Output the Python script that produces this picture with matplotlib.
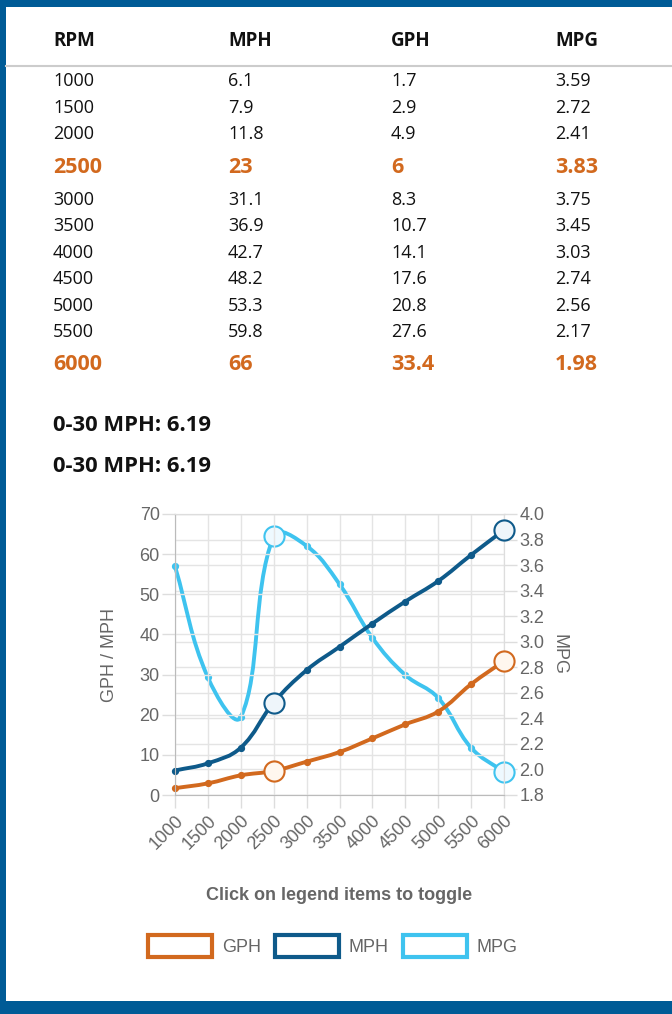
import numpy as np
import matplotlib
matplotlib.use("Agg")
from matplotlib import pyplot as plt
from matplotlib.path import Path
from matplotlib.patches import PathPatch, Rectangle

# donnees du tableau / graphe
rpm = ["1000", "1500", "2000", "2500", "3000", "3500", "4000", "4500", "5000", "5500", "6000"]
mph = [6.1, 7.9, 11.8, 23, 31.1, 36.9, 42.7, 48.2, 53.3, 59.8, 66]
gph = [1.7, 2.9, 4.9, 6, 8.3, 10.7, 14.1, 17.6, 20.8, 27.6, 33.4]
mpg = [3.59, 2.72, 2.41, 3.83, 3.75, 3.45, 3.03, 2.74, 2.56, 2.17, 1.98]
highlight = [3, 10]
mph_txt = ["6.1", "7.9", "11.8", "23", "31.1", "36.9", "42.7", "48.2", "53.3", "59.8", "66"]
gph_txt = ["1.7", "2.9", "4.9", "6", "8.3", "10.7", "14.1", "17.6", "20.8", "27.6", "33.4"]
mpg_txt = ["3.59", "2.72", "2.41", "3.83", "3.75", "3.45", "3.03", "2.74", "2.56", "2.17", "1.98"]
headers = ["RPM", "MPH", "GPH", "MPG"]
accel_txt = "0-30 MPH: 6.19"

W, H = 672, 1014
BLUE_BORDER = "#005b96"
ORANGE = "#d2691e"
C_GPH = "#d2691e"
C_MPH = "#0e5a8a"
C_MPG = "#3ec3ef"
GREY = "#666666"


def fx(x):
    return x / W


def fy(y):
    return 1 - y / H


def smooth_path(ax, xs, ys, tension=0.4):
    # courbe de bezier facon chart.js, calculee en pixels
    pts = ax.transData.transform(np.column_stack([xs, ys]))
    n = len(pts)
    cp_prev = np.zeros_like(pts)
    cp_next = np.zeros_like(pts)
    for i in range(n):
        p0 = pts[max(i - 1, 0)]
        p1 = pts[i]
        p2 = pts[min(i + 1, n - 1)]
        d01 = np.hypot(*(p1 - p0))
        d12 = np.hypot(*(p2 - p1))
        tot = d01 + d12
        fa = tension * d01 / tot if tot else 0
        fb = tension * d12 / tot if tot else 0
        cp_prev[i] = p1 - fa * (p2 - p0)
        cp_next[i] = p1 + fb * (p2 - p0)
    verts = [pts[0]]
    codes = [Path.MOVETO]
    for i in range(n - 1):
        verts += [cp_next[i], cp_prev[i + 1], pts[i + 1]]
        codes += [Path.CURVE4] * 3
    inv = ax.transData.inverted()
    return Path(inv.transform(np.array(verts)), codes)


fig = plt.figure(figsize=(W / 100, H / 100), dpi=100)

# bordures bleues
fig.add_artist(Rectangle((0, fy(7)), 1, 7 / H, transform=fig.transFigure, color=BLUE_BORDER, lw=0))
fig.add_artist(Rectangle((0, 0), 1, 13 / H, transform=fig.transFigure, color=BLUE_BORDER, lw=0))
fig.add_artist(Rectangle((0, 0), 6 / W, 1, transform=fig.transFigure, color=BLUE_BORDER, lw=0))

# tableau
col_x = [53, 228, 391, 555]
for x, h in zip(col_x, headers):
    fig.text(fx(x), fy(41), h, family="Open Sans", weight="bold", fontsize=13.5, va="center", color="#111111")
fig.add_artist(plt.Line2D([fx(6), 1], [fy(66), fy(66)], color="#cccccc", lw=1.5))

row_y = [81, 108, 134, 167, 200, 226, 253, 279, 306, 332, 364]
for i, y in enumerate(row_y):
    vals = [rpm[i], mph_txt[i], gph_txt[i], mpg_txt[i]]
    for x, v in zip(col_x, vals):
        if i in highlight:
            fig.text(fx(x), fy(y), v, family="Open Sans", weight="bold", fontsize=15.5,
                     va="center", color=ORANGE)
        else:
            fig.text(fx(x), fy(y), v, family="Open Sans", fontsize=13, va="center", color="#111111")

fig.text(fx(53), fy(426), accel_txt, family="Open Sans", weight="bold", fontsize=15.8, va="center", color="#111111")
fig.text(fx(53), fy(466), accel_txt, family="Open Sans", weight="bold", fontsize=15.8, va="center", color="#111111")

# graphe
ax = fig.add_axes([fx(175), fy(795), (504 - 175) / W, (795 - 514) / H])
ax2 = ax.twinx()
ax2.set_zorder(ax.get_zorder() - 1)
ax.patch.set_visible(False)

xpos = np.arange(len(rpm))
ax.set_xlim(0, len(rpm) - 1)
ax.set_ylim(0, 70)
ax2.set_ylim(1.8, 4.0)
ax.set_yticks(np.arange(0, 71, 10))
ax2.set_yticks(np.round(np.arange(1.8, 4.01, 0.2), 1))
ax2.set_yticklabels(["%.1f" % v for v in np.arange(1.8, 4.01, 0.2)])
ax.set_xticks(xpos)
ax.set_xticklabels(rpm, rotation=45, ha="right", va="top", rotation_mode="anchor")

for a in (ax, ax2):
    a.tick_params(colors="#dddddd", labelcolor=GREY, labelsize=13, length=9.5, width=1, pad=1.5)
    for sp in a.spines.values():
        sp.set_color("#dddddd")
    a.set_axisbelow(True)
    for lab in a.get_xticklabels() + a.get_yticklabels():
        lab.set_family("Liberation Sans")
ax.tick_params(axis="x", pad=3)
ax.spines["left"].set_color("#bbbbbb")
ax.spines["bottom"].set_color("#bbbbbb")
ax.grid(color="#e4e4e4", lw=1)
ax2.grid(axis="y", color="#e4e4e4", lw=1)

ax.set_ylabel("GPH / MPH", family="Liberation Sans", fontsize=13, color=GREY)
ax.yaxis.set_label_coords(-0.173, 0.5)
ax2.set_ylabel("MPG", family="Liberation Sans", fontsize=13, color=GREY, rotation=270, va="center")
ax2.yaxis.set_label_coords(1.168, 0.5)

series = [(ax2, mpg, C_MPG, "#eef9ff"), (ax, mph, C_MPH, "#eef5fa"), (ax, gph, C_GPH, "#fff7ee")]
for a, vals, col, fill in series:
    a.add_patch(PathPatch(smooth_path(a, xpos, vals), fill=False, edgecolor=col, lw=2.8,
                          clip_on=False, capstyle="round", joinstyle="round"))
    a.plot(xpos, vals, "o", color=col, markersize=4.2, clip_on=False)
    hx = [xpos[i] for i in highlight]
    hy = [vals[i] for i in highlight]
    a.plot(hx, hy, "o", markersize=14.5, markerfacecolor=fill, markeredgecolor=col,
           markeredgewidth=1.5, clip_on=False, zorder=5)

# legende
fig.text(fx(339), fy(896), "Click on legend items to toggle", family="Liberation Sans", weight="bold",
         fontsize=13, color=GREY, ha="center", va="center")
leg = [("GPH", C_GPH, 148), ("MPH", C_MPH, 275), ("MPG", C_MPG, 403)]
for name, col, x0 in leg:
    fig.add_artist(Rectangle((fx(x0), fy(957)), 64 / W, 22 / H, transform=fig.transFigure,
                             facecolor="white", edgecolor=col, lw=3))
    fig.text(fx(x0 + 74), fy(947), name, family="Liberation Sans", fontsize=13, color=GREY, va="center")

fig.savefig("out.png", dpi=100)
